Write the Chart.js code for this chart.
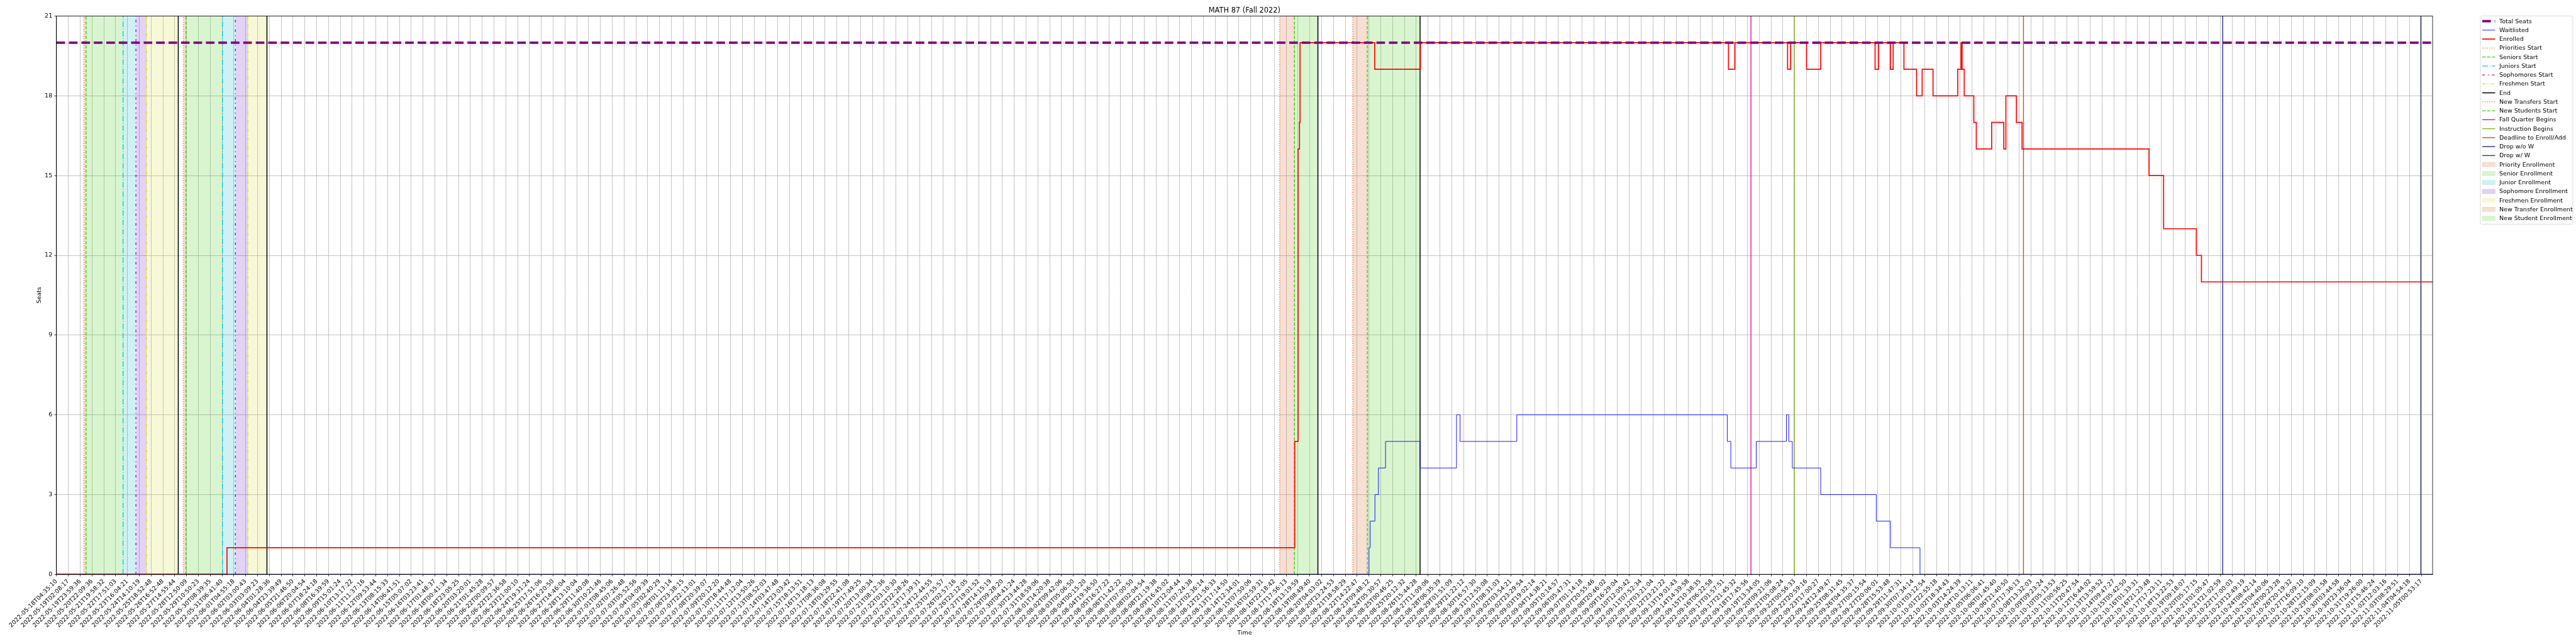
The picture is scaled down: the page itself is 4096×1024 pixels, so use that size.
<!DOCTYPE html>
<html>
<head>
<meta charset="utf-8">
<script src="https://cdn.jsdelivr.net/npm/chart.js@4.4.1/dist/chart.umd.min.js"></script>
<style>
  html, body { margin: 0; padding: 0; background: #fff; }
</style>
</head>
<body>
<canvas id="seatsChart" width="4096" height="1024"></canvas>
<script>
// x positions are in tick units: tick i sits under tickLabels[i]
const tickLabels = [
  '2022-05-18T04:35:10', '2022-05-19T02:08:17', '2022-05-19T23:59:36', '2022-05-20T22:09:36', '2022-05-21T19:58:32',
  '2022-05-22T17:51:03', '2022-05-23T16:04:21', '2022-05-24T14:10:19', '2022-05-25T18:52:48', '2022-05-26T16:52:48',
  '2022-05-27T14:55:44', '2022-05-28T12:50:09', '2022-05-29T10:50:23', '2022-05-30T08:39:35', '2022-05-31T06:41:40',
  '2022-06-01T04:55:18', '2022-06-02T03:00:43', '2022-06-03T03:09:23', '2022-06-04T01:28:36', '2022-06-04T23:39:49',
  '2022-06-05T21:46:50', '2022-06-06T20:04:54', '2022-06-07T18:24:18', '2022-06-08T16:39:59', '2022-06-09T15:01:24',
  '2022-06-10T13:17:22', '2022-06-11T11:37:16', '2022-06-12T09:53:44', '2022-06-13T08:15:33', '2022-06-14T06:41:51',
  '2022-06-15T05:07:02', '2022-06-16T03:23:41', '2022-06-17T01:48:37', '2022-06-18T00:41:34', '2022-06-18T23:05:25',
  '2022-06-20T03:20:01', '2022-06-21T01:45:28', '2022-06-22T00:09:57', '2022-06-22T22:36:58', '2022-06-23T21:00:10',
  '2022-06-24T19:31:24', '2022-06-25T17:51:06', '2022-06-26T16:20:50', '2022-06-27T14:46:04', '2022-06-28T13:10:04',
  '2022-06-29T11:40:08', '2022-06-30T10:21:46', '2022-07-01T08:45:06', '2022-07-02T07:26:48', '2022-07-03T05:52:56',
  '2022-07-04T04:09:39', '2022-07-05T02:40:29', '2022-07-06T01:13:14', '2022-07-06T23:38:15', '2022-07-07T22:13:01',
  '2022-07-08T20:39:07', '2022-07-09T20:12:20', '2022-07-10T18:44:48', '2022-07-11T17:12:04', '2022-07-12T13:50:26',
  '2022-07-13T08:52:03', '2022-07-14T03:47:48', '2022-07-14T23:03:42', '2022-07-15T18:13:51', '2022-07-16T13:18:13',
  '2022-07-17T08:36:08', '2022-07-18T03:29:55', '2022-07-18T22:41:08', '2022-07-19T17:49:25', '2022-07-20T13:00:34',
  '2022-07-21T08:12:36', '2022-07-22T03:10:30', '2022-07-22T22:28:26', '2022-07-23T17:39:31', '2022-07-24T12:44:55',
  '2022-07-25T07:55:57', '2022-07-26T02:57:16', '2022-07-26T22:12:05', '2022-07-27T19:01:52', '2022-07-28T14:15:19',
  '2022-07-29T09:28:20', '2022-07-30T04:41:24', '2022-07-30T23:44:28', '2022-07-31T18:59:06', '2022-08-01T14:20:38',
  '2022-08-02T09:42:06', '2022-08-03T05:06:50', '2022-08-04T00:15:20', '2022-08-04T19:36:50', '2022-08-05T16:27:22',
  '2022-08-06T11:42:22', '2022-08-07T07:00:50', '2022-08-08T02:04:54', '2022-08-08T21:19:38', '2022-08-09T16:45:02',
  '2022-08-10T12:04:44', '2022-08-11T07:24:38', '2022-08-12T02:36:14', '2022-08-12T21:56:33', '2022-08-13T17:14:50',
  '2022-08-14T12:34:01', '2022-08-15T07:50:06', '2022-08-16T02:59:31', '2022-08-16T22:18:42', '2022-08-17T17:56:13',
  '2022-08-18T13:19:59', '2022-08-19T08:49:40', '2022-08-20T04:03:02', '2022-08-20T23:24:53', '2022-08-21T18:58:29',
  '2022-08-22T14:22:47', '2022-08-23T09:48:12', '2022-08-24T05:30:57', '2022-08-25T00:46:25', '2022-08-25T20:12:32',
  '2022-08-26T15:44:28', '2022-08-27T11:09:06', '2022-08-28T06:35:39', '2022-08-29T01:51:09', '2022-08-29T21:22:12',
  '2022-08-30T16:57:30', '2022-08-31T12:55:08', '2022-09-01T08:31:03', '2022-09-02T03:54:21', '2022-09-02T23:29:54',
  '2022-09-03T19:02:14', '2022-09-04T14:38:21', '2022-09-05T10:14:57', '2022-09-06T05:47:31', '2022-09-07T01:14:18',
  '2022-09-07T20:55:46', '2022-09-08T20:46:02', '2022-09-09T16:29:04', '2022-09-10T12:05:42', '2022-09-11T07:52:34',
  '2022-09-12T03:21:04', '2022-09-12T23:21:22', '2022-09-13T19:01:43', '2022-09-14T14:39:58', '2022-09-15T10:38:35',
  '2022-09-16T06:22:58', '2022-09-17T01:57:51', '2022-09-17T21:45:32', '2022-09-18T17:45:56', '2022-09-19T13:34:05',
  '2022-09-20T09:21:06', '2022-09-21T05:08:24', '2022-09-22T00:56:33', '2022-09-22T20:59:16', '2022-09-23T17:00:27',
  '2022-09-24T12:49:47', '2022-09-25T08:31:45', '2022-09-26T04:35:37', '2022-09-27T00:15:54', '2022-09-27T20:06:01',
  '2022-09-28T15:53:48', '2022-09-29T11:47:31', '2022-09-30T07:34:14', '2022-10-01T03:12:54', '2022-10-01T22:55:18',
  '2022-10-02T18:34:43', '2022-10-03T14:24:39', '2022-10-04T10:13:11', '2022-10-05T06:06:41', '2022-10-06T01:45:40',
  '2022-10-06T21:40:50', '2022-10-07T17:36:13', '2022-10-08T13:32:03', '2022-10-09T09:23:24', '2022-10-10T05:13:53',
  '2022-10-11T00:56:25', '2022-10-11T20:47:54', '2022-10-12T16:44:02', '2022-10-13T13:59:52', '2022-10-14T09:47:27',
  '2022-10-15T05:42:50', '2022-10-16T01:33:31', '2022-10-16T21:23:48', '2022-10-17T17:23:11', '2022-10-18T13:22:53',
  '2022-10-19T09:18:07', '2022-10-20T05:17:15', '2022-10-21T01:05:47', '2022-10-21T21:02:59', '2022-10-22T17:00:03',
  '2022-10-23T12:49:19', '2022-10-24T08:42:14', '2022-10-25T04:40:06', '2022-10-26T00:23:28', '2022-10-26T20:19:32',
  '2022-10-27T16:09:10', '2022-10-28T12:15:09', '2022-10-29T08:01:58', '2022-10-30T03:44:58', '2022-10-30T23:36:04',
  '2022-10-31T19:26:00', '2022-11-01T15:46:24', '2022-11-02T12:03:16', '2022-11-03T08:29:51', '2022-11-04T04:54:18',
  '2022-11-05T00:53:17'
];
const xEnd = 200.95;
const yTicks = [0, 3, 6, 9, 12, 15, 18, 21];

const totalSeats = 20;

// step changes (value holds until the next x)
const enrolledX = [0, 14.42, 104.72, 105.0, 105.12, 105.17, 111.48, 115.35, 141.4, 141.94, 146.4, 146.66, 148.0, 149.2,
  153.8, 154.1, 155.1, 155.33, 156.24, 157.31, 157.78, 158.7, 160.79, 161.07, 161.16, 161.34, 162.15, 162.36,
  163.66, 164.68, 164.86, 165.75, 166.23, 176.97, 178.2, 180.97, 181.4];
const enrolledY = [0, 1, 5, 16, 17, 20, 19, 20, 19, 20, 19, 20, 19, 20,
  19, 20, 19, 20, 19, 18, 19, 18, 19, 20, 19, 18, 17, 16,
  17, 16, 18, 17, 16, 15, 13, 12, 11];

const waitlistX = [0, 111.0, 111.1, 111.5, 111.8, 112.4, 115.32, 118.4, 118.7, 123.5, 141.3, 141.6, 143.75, 146.3, 146.5,
  146.8, 149.2, 153.9, 155.1, 157.6];
const waitlistY = [0, 1, 2, 3, 4, 5, 4, 6, 5, 6, 5, 4, 5, 6, 5,
  4, 3, 2, 1, 0];

// event markers
const prioritiesStart = [2.32, 10.75];
const seniorsStart = [2.50, 10.95];
const juniorsStart = [5.63, 14.04];
const sophomoresStart = [6.72, 15.13];
const freshmenStart = [7.62, 16.19];
const enrollEnd = [10.30, 17.80, 106.68, 115.32];
const newTransfersStart = [103.45, 109.63];
const newStudentsStart = [104.69, 110.86];
const fallQuarterBegins = 143.3;
const instructionBegins = 146.96;
const deadlineAdd = 166.35;
const dropNoW = 183.2;
const dropW = 199.95;

const FONT = '"DejaVu Sans", sans-serif';
Chart.defaults.color = '#000';
Chart.defaults.font.family = FONT;

function stepPoints(xs, ys) {
    const pts = xs.map((x, i) => ({ x: x, y: ys[i] }));
    pts.push({ x: xEnd, y: ys[ys.length - 1] });
    return pts;
}

const datasets = [];

function addLine(label, color, width, dash, points, extra) {
    datasets.push(Object.assign({
        label: label,
        data: points,
        borderColor: color,
        borderWidth: width,
        borderDash: dash,
        pointRadius: 0,
        fill: false,
        legendKind: 'line'
    }, extra || {}));
}

function addVLines(label, color, width, dash, xs) {
    xs.forEach(x => addLine(label, color, width, dash, [{ x: x, y: 0 }, { x: x, y: 21 }]));
}

function addSpans(label, fillColor, starts, ends) {
    starts.forEach((s, i) => {
        datasets.push({
            label: label,
            data: [{ x: s, y: 21 }, { x: ends[i], y: 21 }],
            borderWidth: 0,
            borderColor: 'rgba(0,0,0,0)',
            backgroundColor: fillColor,
            pointRadius: 0,
            fill: 'origin',
            legendKind: 'patch'
        });
    });
}

addLine('Total Seats', '#800080', 3.6, [13.7, 6.1], [{ x: 0, y: totalSeats }, { x: xEnd, y: totalSeats }]);
addLine('Enrolled', '#ff0000', 1.7, [], stepPoints(enrolledX, enrolledY), { stepped: true });
addLine('Waitlisted', '#0000ff', 0.9, [], stepPoints(waitlistX, waitlistY), { stepped: true });

const dotted = [1.4, 2.3];
const dashed = [5.3, 2.3];
addVLines('Priorities Start', '#ee6a35', 1.4, dotted, prioritiesStart);
addVLines('Seniors Start', '#41cc11', 1.4, dashed, seniorsStart);
addVLines('Juniors Start', '#12c6da', 1.4, [9, 2.3, 1.4, 2.3], juniorsStart);
addVLines('Sophomores Start', '#6a1fd1', 1.4, [4, 5, 1.4, 5], sophomoresStart);
addVLines('Freshmen Start', '#dada22', 1.4, [5, 2, 1.4, 2, 1.4, 2], freshmenStart);
addVLines('End', '#000000', 1.5, [], enrollEnd);
addVLines('New Transfers Start', '#ee6a35', 1.4, dotted, newTransfersStart);
addVLines('New Students Start', '#41cc11', 1.4, dashed, newStudentsStart);
addVLines('Fall Quarter Begins', '#dd1199', 1.4, [], [fallQuarterBegins]);
addVLines('Instruction Begins', '#8db31b', 1.4, [], [instructionBegins]);
addVLines('Deadline to Enroll/Add', '#d9481e', 1.4, [], [deadlineAdd]);
addVLines('Drop w/o W', '#2f2a8c', 1.4, [], [dropNoW]);
addVLines('Drop w/ W', '#2e3a57', 1.4, [], [dropW]);

addSpans('Priority Enrollment', 'rgba(215,95,40,0.2)', prioritiesStart, seniorsStart);
addSpans('Senior Enrollment', 'rgba(65,205,15,0.2)', seniorsStart, juniorsStart);
addSpans('Junior Enrollment', 'rgba(15,185,200,0.2)', juniorsStart, sophomoresStart);
addSpans('Sophomore Enrollment', 'rgba(110,30,200,0.2)', sophomoresStart, freshmenStart);
addSpans('Freshmen Enrollment', 'rgba(215,220,60,0.2)', freshmenStart, enrollEnd.slice(0, 2));
addSpans('New Transfer Enrollment', 'rgba(215,95,40,0.2)', newTransfersStart, newStudentsStart);
addSpans('New Student Enrollment', 'rgba(65,205,15,0.2)', newStudentsStart, enrollEnd.slice(2));

const legendOrder = ['Total Seats', 'Waitlisted', 'Enrolled', 'Priorities Start', 'Seniors Start', 'Juniors Start',
  'Sophomores Start', 'Freshmen Start', 'End', 'New Transfers Start', 'New Students Start', 'Fall Quarter Begins',
  'Instruction Begins', 'Deadline to Enroll/Add', 'Drop w/o W', 'Drop w/ W', 'Priority Enrollment',
  'Senior Enrollment', 'Junior Enrollment', 'Sophomore Enrollment', 'Freshmen Enrollment',
  'New Transfer Enrollment', 'New Student Enrollment'];

// frame, title and matplotlib-style legend
const decorPlugin = {
    id: 'decor',
    afterDraw(chart) {
        const ctx = chart.ctx;
        const a = chart.chartArea;
        ctx.save();
        ctx.strokeStyle = '#000';
        ctx.lineWidth = 0.8;
        ctx.strokeRect(a.left, a.top, a.right - a.left, a.bottom - a.top);

        ctx.fillStyle = '#000';
        ctx.font = '11.4px ' + FONT;
        ctx.textAlign = 'center';
        ctx.textBaseline = 'alphabetic';
        ctx.fillText('MATH 87 (Fall 2022)', (a.left + a.right) / 2, 19.5);

        const bx = 3944, by = 25.4, bw = 147, bh = 331;
        ctx.beginPath();
        ctx.roundRect(bx, by, bw, bh, 2.5);
        ctx.fillStyle = 'rgba(255,255,255,0.8)';
        ctx.fill();
        ctx.strokeStyle = '#cccccc';
        ctx.lineWidth = 0.7;
        ctx.stroke();

        ctx.textAlign = 'left';
        ctx.textBaseline = 'middle';
        ctx.font = '9.5px ' + FONT;
        legendOrder.forEach((label, i) => {
            const ds = chart.data.datasets.find(d => d.label === label);
            const cy = 33.6 + i * 14.25;
            if (ds.legendKind === 'patch') {
                ctx.setLineDash([]);
                ctx.fillStyle = ds.backgroundColor;
                ctx.fillRect(3947, cy - 3.4, 20.5, 6.8);
                ctx.strokeStyle = ds.backgroundColor;
                ctx.lineWidth = 0.7;
                ctx.strokeRect(3947, cy - 3.4, 20.5, 6.8);
            } else {
                ctx.strokeStyle = ds.borderColor;
                ctx.lineWidth = ds.borderWidth;
                ctx.setLineDash(ds.borderDash);
                ctx.beginPath();
                ctx.moveTo(3947, cy);
                ctx.lineTo(3967.5, cy);
                ctx.stroke();
            }
            ctx.setLineDash([]);
            ctx.fillStyle = '#000';
            ctx.fillText(label, 3974, cy + 0.5);
        });
        ctx.restore();
    }
};

new Chart(document.getElementById('seatsChart'), {
    type: 'line',
    data: { datasets: datasets },
    options: {
        responsive: false,
        animation: false,
        events: [],
        layout: { padding: { top: 25.6, right: 228, bottom: 0, left: 0 } },
        plugins: {
            legend: { display: false },
            tooltip: { enabled: false }
        },
        scales: {
            x: {
                type: 'linear',
                min: 0,
                max: xEnd,
                afterBuildTicks: (s) => { s.ticks = tickLabels.map((_, i) => ({ value: i })); },
                afterFit: (s) => { s.height = 110.8; },
                ticks: {
                    autoSkip: false,
                    maxRotation: 45,
                    minRotation: 45,
                    padding: 2.5,
                    font: { size: 9.5 },
                    callback: (v) => tickLabels[v]
                },
                grid: { color: '#b0b0b0', lineWidth: 0.75, tickLength: 3.3, tickColor: '#000' },
                border: { color: '#000', width: 0.8 },
                title: { display: true, text: 'Time', font: { size: 9.5 }, padding: { top: 0, bottom: 11.7 } }
            },
            y: {
                type: 'linear',
                min: 0,
                max: 21,
                afterBuildTicks: (s) => { s.ticks = yTicks.map(v => ({ value: v })); },
                afterFit: (s) => { s.width = 89.8; },
                ticks: { padding: 3.3, font: { size: 9.5 } },
                grid: { color: '#b0b0b0', lineWidth: 0.75, tickLength: 3.3, tickColor: '#000' },
                border: { color: '#000', width: 0.8 },
                title: { display: true, text: 'Seats', font: { size: 9.5 }, padding: { top: 57, bottom: 0 } }
            }
        }
    },
    plugins: [decorPlugin]
});
</script>
</body>
</html>
